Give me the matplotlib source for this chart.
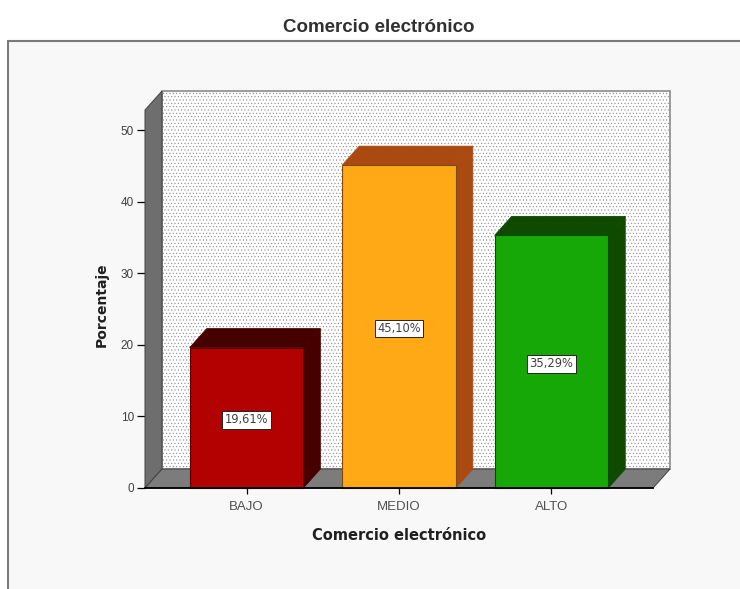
import numpy as np
import matplotlib
matplotlib.use("Agg")
import matplotlib.pyplot as plt
from matplotlib.patches import Polygon, Rectangle

plt.rcParams["font.family"] = ["Liberation Sans", "DejaVu Sans"]
plt.rcParams["hatch.linewidth"] = 0.4
plt.rcParams["hatch.color"] = "#c8c8c8"

categorias = ["BAJO", "MEDIO", "ALTO"]
porcentajes = [19.61, 45.10, 35.29]
y_ticks = [0, 10, 20, 30, 40, 50]

colores = ["#b30000", "#ffa916", "#16a806"]
colores_osc = ["#470000", "#ab4a10", "#0e4b00"]
bordes = ["#5a0000", "#7a4a10", "#0e4b00"]

W, H = 740, 589
fig = plt.figure(figsize=(W / 100, H / 100), dpi=100, facecolor="white")

# marco gris de fondo
fig.add_artist(Rectangle((8 / W, -0.01), 1, 1.01 - 41 / H, transform=fig.transFigure,
                         facecolor="#f8f8f8", edgecolor="#7a7a7a", linewidth=1.5, zorder=-1))

# plano frontal del grafico en pixeles
ax = fig.add_axes([145 / W, 1 - 488 / H, (653 - 145) / W, (488 - 110) / H])
ax.set_xlim(-0.666, 2.666)
ax.set_ylim(0, 52.8)
ax.patch.set_alpha(0)
for s in ["top", "right", "left"]:
    ax.spines[s].set_visible(False)
ax.spines["bottom"].set_linewidth(1.3)
ax.spines["bottom"].set_zorder(10)

x0, x1 = ax.get_xlim()
y1 = ax.get_ylim()[1]
dx, dy = 0.1115, 2.65  # profundidad 3D

# pared del fondo, pared izquierda y suelo
ax.add_patch(Polygon([(x0 + dx, dy), (x1 + dx, dy), (x1 + dx, y1 + dy), (x0 + dx, y1 + dy)],
                     facecolor="white", edgecolor="#8a8a8a", linewidth=1.2,
                     hatch=".....", clip_on=False, zorder=1))
ax.add_patch(Polygon([(x0, 0), (x0 + dx, dy), (x0 + dx, y1 + dy), (x0, y1)],
                     facecolor="#6e6e6e", edgecolor="#404040", linewidth=0.7, clip_on=False, zorder=2))
ax.add_patch(Polygon([(x0, 0), (x1, 0), (x1 + dx, dy), (x0 + dx, dy)],
                     facecolor="#7c7c7c", edgecolor="#404040", linewidth=0.7, clip_on=False, zorder=2))

ancho = 0.745
xs = np.arange(len(categorias))
for x, v, c, co, b in zip(xs, porcentajes, colores, colores_osc, bordes):
    izq, der = x - ancho / 2, x + ancho / 2
    ax.add_patch(Polygon([(der, 0), (der + dx, dy), (der + dx, v + dy), (der, v)],
                         facecolor=co, edgecolor=co, linewidth=0.6, clip_on=False, zorder=3))
    ax.add_patch(Polygon([(izq, v), (der, v), (der + dx, v + dy), (izq + dx, v + dy)],
                         facecolor=co, edgecolor=co, linewidth=0.6, clip_on=False, zorder=3))
    ax.bar(x, v, ancho, color=c, edgecolor=b, linewidth=0.8, zorder=4, clip_on=False)
    ax.annotate(f"{v:.2f}%".replace(".", ","), (x, v / 2), xytext=(0, -1.5), textcoords="offset points",
                ha="center", va="center", fontsize=8.3, family="DejaVu Sans", color="#404040", zorder=5,
                bbox=dict(boxstyle="square,pad=0.2", facecolor="white", edgecolor="#222222", linewidth=0.7))

ax.set_xticks(xs)
ax.set_xticklabels(categorias, fontsize=9.5, color="#505050")
ax.set_yticks(y_ticks)
ax.tick_params(axis="y", labelsize=8.5, length=6, width=0.9, pad=2, labelcolor="#404040")
ax.tick_params(axis="x", length=4, width=0.9, pad=5)

ax.set_xlabel("Comercio electrónico", fontsize=10.5, family="DejaVu Sans", fontweight="bold",
              color="#202020", labelpad=11)
ax.set_ylabel("Porcentaje", fontsize=10, family="DejaVu Sans", fontweight="bold", color="#202020")
ax.yaxis.set_label_coords(-0.071, 0.484)
fig.text(379 / W, 1 - 27 / H, "Comercio electrónico", ha="center", va="center",
         fontsize=13.5, fontweight="bold", color="#303030")

fig.savefig("out.png", dpi=100)
